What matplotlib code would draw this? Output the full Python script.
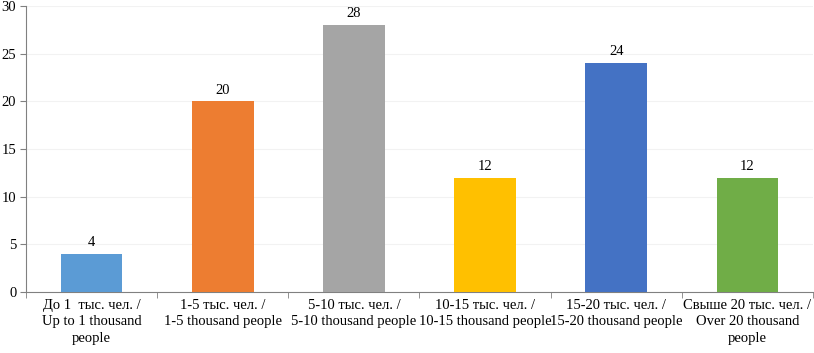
import matplotlib
matplotlib.use("Agg")
import matplotlib.pyplot as plt
import numpy as np

plt.rcParams['font.family'] = ['Liberation Serif', 'DejaVu Serif']

categories = [
    "До 1  тыс. чел. /\nUp to 1 thousand\npeople",
    "1-5 тыс. чел. /\n1-5 thousand people",
    "5-10 тыс. чел. /\n5-10 thousand people",
    "10-15 тыс. чел. /\n10-15 thousand people",
    "15-20 тыс. чел. /\n15-20 thousand people",
    "Свыше 20 тыс. чел. /\nOver 20 thousand\npeople",
]
values = [4, 20, 28, 12, 24, 12]
colors = ["#5B9BD5", "#ED7D31", "#A5A5A5", "#FFC000", "#4472C4", "#70AD47"]

fig = plt.figure(figsize=(8.14, 3.53), dpi=100)
ax = fig.add_axes([26 / 814, 61 / 353, 787 / 814, 286 / 353])

x = np.arange(len(values))
bars = ax.bar(x, values, width=0.47, color=colors, zorder=3)
for xi, v in zip(x, values):
    ax.text(xi, v + 0.5, str(v), ha='center', va='bottom', fontsize=10.5)

ax.set_xlim(-0.5, len(values) - 0.5)
ax.set_ylim(0, 30)
ax.set_yticks(np.arange(0, 31, 5))
ax.tick_params(axis='y', labelsize=10.5, length=4, color='#808080', pad=3)
ax.set_xticks(x)
ax.set_xticklabels(categories, fontsize=10.5, linespacing=1.35)
ax.tick_params(axis='x', length=0, pad=5)
ax.set_xticks(np.arange(-0.5, len(values)), minor=True)
ax.tick_params(axis='x', which='minor', length=4, color='#808080', direction='out')
ax.yaxis.grid(True, color='#F2F2F2', linewidth=0.8, zorder=0)

for s in ['top', 'right']:
    ax.spines[s].set_visible(False)
ax.spines['left'].set_color('#808080')
ax.spines['bottom'].set_color('#808080')

fig.savefig("out.png", dpi=100)
